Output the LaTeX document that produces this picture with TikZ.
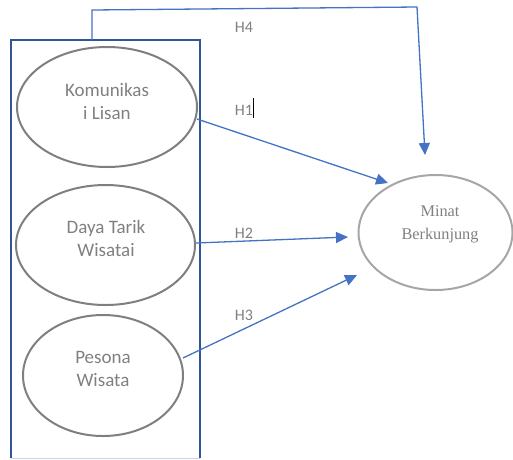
\documentclass[tikz,border=0pt]{standalone}
\usepackage{fontspec}
\setmainfont{Carlito}
\newfontfamily\serifface{Liberation Serif}
\usetikzlibrary{shapes.geometric,arrows.meta}
\definecolor{boxblue}{HTML}{2F5597}
\definecolor{arrowblue}{HTML}{4472C4}
\definecolor{ellgray}{HTML}{7F7F7F}
\definecolor{ellgraylight}{HTML}{A6A6A6}
\definecolor{txtgray}{HTML}{808080}
\tikzset{
  varell/.style={draw=ellgray, line width=2pt, ellipse, inner sep=0pt},
  vartext/.style={text=txtgray, font=\fontsize{19}{23}\selectfont, align=center, inner sep=0pt},
  hyplabel/.style={text=txtgray, font=\fontsize{16}{19}\selectfont, inner sep=0pt},
  conn/.style={draw=arrowblue, line width=1.3pt, -{Triangle[length=12pt,width=11pt]}},
}
\begin{document}
\begin{tikzpicture}[x=1pt,y=-1pt]
\useasboundingbox (0,0) rectangle (513,459);
% enclosing box
\draw[boxblue, line width=2pt] (11,458) -- (11,40) -- (200,40) -- (200,458);
\draw[draw=boxblue!25, line width=1pt] (11,458) -- (200,458);
% ellipses
\node[varell, minimum width=180pt, minimum height=120pt] (e1) at (107,107) {};
\node[varell, minimum width=179pt, minimum height=120pt] (e2) at (105.5,245) {};
\node[varell, minimum width=160pt, minimum height=121pt] (e3) at (103,375.5) {};
\node[draw=ellgraylight, line width=2pt, ellipse, inner sep=0pt, minimum width=154pt, minimum height=115pt] (mb) at (435.5,232.5) {};
% texts
\node[vartext] (t1) at (107,101) {Komunikas\\i Lisan};
\node[vartext] (t2) at (106,238) {Daya Tarik\\Wisatai};
\node[vartext] (t3) at (103,369) {Pesona\\Wisata};
\node[text=txtgray, font=\serifface\fontsize{16.3}{23}\selectfont, align=center, inner sep=0pt] (tm) at (440,224) {Minat\\Berkunjung};
% connector endpoints
\coordinate (s1) at (197,119);
\coordinate (p1) at (388,183);
\coordinate (s2) at (196,243);
\coordinate (p2) at (348,237);
\coordinate (s3) at (183,358);
\coordinate (p3) at (357,275);
\coordinate (s4) at (92,40);
\coordinate (c4a) at (92,10);
\coordinate (c4b) at (417,7);
\coordinate (p4) at (425,155);
% connectors
\draw[conn] (s1) -- (p1);
\draw[conn] (s2) -- (p2);
\draw[conn] (s3) -- (p3);
\draw[conn] (s4) -- (c4a) -- (c4b) -- (p4);
% labels
\node[hyplabel] (h4) at (244,27) {H4};
\node[hyplabel] (h1) at (244,110) {H1};
\node[hyplabel] (h2) at (244,233) {H2};
\node[hyplabel] (h3) at (244,315) {H3};
\draw[black, line width=1pt] (253.5,98) -- (253.5,118);
\end{tikzpicture}
\end{document}
